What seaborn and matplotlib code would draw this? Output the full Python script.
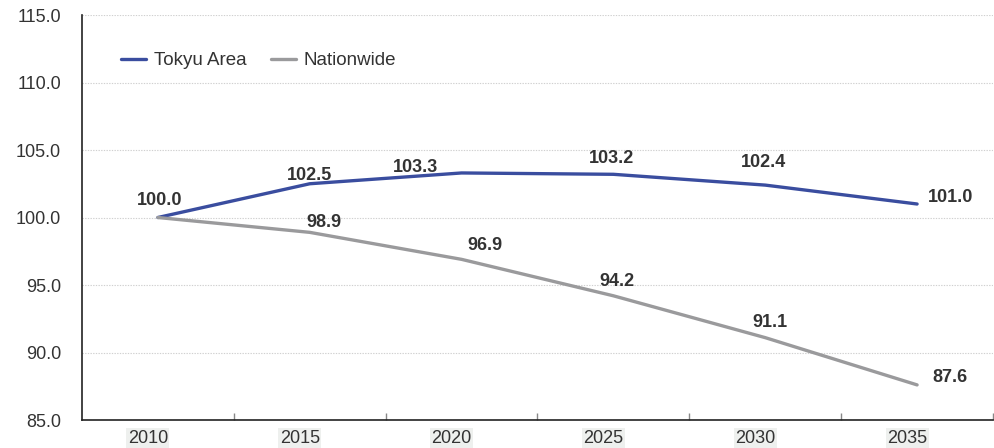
import matplotlib
matplotlib.use("Agg")
import matplotlib.pyplot as plt
import matplotlib.transforms as mtrans
import seaborn as sns
import pandas as pd
import numpy as np

years = ["2010", "2015", "2020", "2025", "2030", "2035"]
tokyu = [100.0, 102.5, 103.3, 103.2, 102.4, 101.0]
nationwide = [100.0, 98.9, 96.9, 94.2, 91.1, 87.6]

# label offsets (pixels) for each value label
tokyu_offsets = [(2, 17), (0, 8), (-46, 5), (-2, 16), (-2, 23), (33, 7)]
nation_offsets = [None, (14, 10), (23, 14), (4, 14), (5, 15), (33, 7)]

sns.set_style("white")
plt.rcParams['font.family'] = ['Liberation Sans', 'DejaVu Sans']

df = pd.DataFrame({
    "year": years * 2,
    "value": tokyu + nationwide,
    "series": ["Tokyu Area"] * len(years) + ["Nationwide"] * len(years),
})

fig = plt.figure(figsize=(9.95, 4.48), dpi=100)
ax = fig.add_axes([0.0824, 0.0625, 0.9156, 0.904])

palette = {"Tokyu Area": "#3a4d9f", "Nationwide": "#9a9a9c"}
sns.lineplot(data=df, x="year", y="value", hue="series", palette=palette,
             linewidth=2.4, sort=False, ax=ax)

ax.set_xlim(-0.5, len(years) - 0.5)
ax.set_ylim(85, 115)
ax.set_yticks(np.arange(85, 115.1, 5))
ax.set_yticklabels(["{:.1f}".format(v) for v in np.arange(85, 115.1, 5)])
ax.yaxis.grid(True, linestyle=(0, (1.2, 1.2)), color="#d0d0d0", linewidth=0.8)
ax.set_axisbelow(True)

ax.set_xticks(range(len(years)))
ax.set_xticklabels(years)
ax.set_xticks(np.arange(0.5, len(years)), minor=True)
ax.tick_params(axis="x", which="major", length=0, labelsize=13, colors="#333333", pad=7)
ax.tick_params(axis="x", which="minor", bottom=True, direction="in", length=5,
               width=1, color="#888888")
ax.tick_params(axis="y", length=0, labelsize=13, colors="#333333", pad=15)
# x labels sit a little left of their points in the original
shift = mtrans.ScaledTranslation(-10 / 100, 0, fig.dpi_scale_trans)
for lab in ax.get_xticklabels():
    lab.set_bbox(dict(facecolor="#eef0ee", edgecolor="none", pad=1))
    lab.set_transform(lab.get_transform() + shift)

ax.set_xlabel("")
ax.set_ylabel("")
for side in ["top", "right"]:
    ax.spines[side].set_visible(False)
for side in ["left", "bottom"]:
    ax.spines[side].set_color("#222222")
    ax.spines[side].set_linewidth(1.2)

for i, (v, off) in enumerate(zip(tokyu, tokyu_offsets)):
    ax.annotate("{:.1f}".format(v), (i, v), xytext=off, textcoords="offset pixels",
                ha="center", va="center", fontsize=13, fontweight="bold", color="#333333")
for i, (v, off) in enumerate(zip(nationwide, nation_offsets)):
    if off is None:
        continue
    ax.annotate("{:.1f}".format(v), (i, v), xytext=off, textcoords="offset pixels",
                ha="center", va="center", fontsize=13, fontweight="bold", color="#333333")

handles, labels = ax.get_legend_handles_labels()
ax.legend(handles, labels, loc="upper left", bbox_to_anchor=(0.024, 0.95), ncol=2,
          frameon=False, fontsize=13.5, handlelength=1.35, handletextpad=0.4,
          columnspacing=1.3, labelcolor="#333333")

fig.savefig("out.png", dpi=100)
